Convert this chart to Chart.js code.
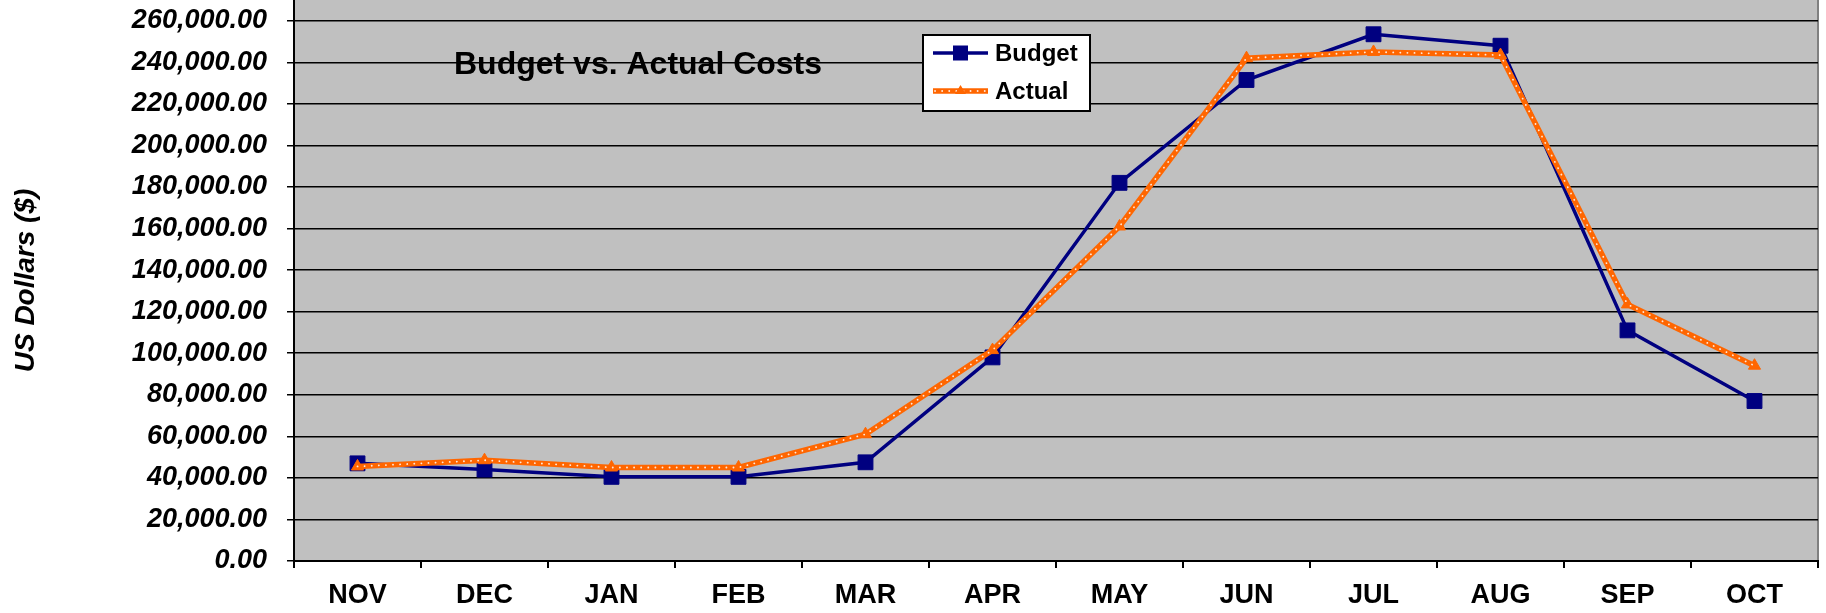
<!DOCTYPE html>
<html>
<head>
<meta charset="utf-8">
<title>Budget vs. Actual Costs</title>
<script src="https://cdn.jsdelivr.net/npm/chart.js@4.4.0/dist/chart.umd.min.js"></script>
<style>
  html, body { margin: 0; padding: 0; background: #ffffff; }
  #wrap { width: 1826px; height: 613px; }
</style>
</head>
<body>
<div id="wrap"><canvas id="costChart" width="1826" height="613"></canvas></div>
<script>
const months = ['NOV', 'DEC', 'JAN', 'FEB', 'MAR', 'APR', 'MAY', 'JUN', 'JUL', 'AUG', 'SEP', 'OCT'];
const budget = [47000, 44000, 40500, 40500, 47500, 98000, 182000, 231500, 253500, 248000, 111000, 77000];
const actual = [45500, 48500, 45000, 45000, 61000, 101500, 161000, 242000, 245000, 243500, 123500, 94000];
const yTicks = [0, 20000, 40000, 60000, 80000, 100000, 120000, 140000, 160000, 180000, 200000, 220000, 240000, 260000];
const Y_MAX = 270000;

const NAVY = '#000080';
const ORANGE = '#ff6600';
const FONT = '"Liberation Sans", Arial, sans-serif';

// gray plot area + right border
const plotBackground = {
    id: 'plotBackground',
    beforeDraw(chart) {
        const { ctx, chartArea: a } = chart;
        ctx.save();
        ctx.fillStyle = '#c0c0c0';
        ctx.fillRect(a.left, a.top, a.right - a.left, a.bottom - a.top);
        ctx.strokeStyle = '#808080';
        ctx.lineWidth = 2;
        ctx.beginPath();
        ctx.moveTo(a.right, a.top);
        ctx.lineTo(a.right, a.bottom);
        ctx.stroke();
        ctx.restore();
    }
};

// title inside the plot area
const innerTitle = {
    id: 'innerTitle',
    afterDraw(chart) {
        const { ctx, chartArea: a } = chart;
        ctx.save();
        ctx.font = 'bold 32px ' + FONT;
        ctx.fillStyle = '#000';
        ctx.textBaseline = 'alphabetic';
        ctx.textAlign = 'left';
        ctx.fillText('Budget vs. Actual Costs', a.left + 160, a.top + 74);
        ctx.restore();
    }
};

// boxed legend with line + marker samples
const boxLegend = {
    id: 'boxLegend',
    afterDraw(chart) {
        const { ctx, chartArea: a } = chart;
        const x = a.left + 629, y = a.top + 35, w = 167, h = 76;
        ctx.save();
        ctx.fillStyle = '#fff';
        ctx.fillRect(x, y, w, h);
        ctx.strokeStyle = '#000';
        ctx.lineWidth = 2;
        ctx.strokeRect(x, y, w, h);

        // Budget
        let ly = y + 18;
        ctx.strokeStyle = NAVY;
        ctx.lineWidth = 3.5;
        ctx.beginPath();
        ctx.moveTo(x + 10, ly);
        ctx.lineTo(x + 65, ly);
        ctx.stroke();
        ctx.fillStyle = NAVY;
        ctx.fillRect(x + 30, ly - 7.5, 15, 15);

        // Actual
        ly = y + 56;
        ctx.strokeStyle = ORANGE;
        ctx.lineWidth = 5.5;
        ctx.beginPath();
        ctx.moveTo(x + 10, ly);
        ctx.lineTo(x + 65, ly);
        ctx.stroke();
        ctx.strokeStyle = 'rgba(255,255,255,0.85)';
        ctx.lineWidth = 1.8;
        ctx.lineCap = 'round';
        ctx.setLineDash([0.1, 7]);
        ctx.beginPath();
        ctx.moveTo(x + 12, ly);
        ctx.lineTo(x + 65, ly);
        ctx.stroke();
        ctx.setLineDash([]);
        ctx.fillStyle = ORANGE;
        ctx.beginPath();
        ctx.moveTo(x + 37.5, ly - 6);
        ctx.lineTo(x + 43, ly + 3);
        ctx.lineTo(x + 32, ly + 3);
        ctx.closePath();
        ctx.fill();

        ctx.fillStyle = '#000';
        ctx.font = 'bold 24px ' + FONT;
        ctx.textBaseline = 'middle';
        ctx.fillText('Budget', x + 72, y + 19);
        ctx.fillText('Actual', x + 72, y + 57);
        ctx.restore();
    }
};

const ctx = document.getElementById('costChart').getContext('2d');
new Chart(ctx, {
    type: 'line',
    data: {
        labels: months,
        datasets: [
            {
                label: 'Actual dots',
                data: actual,
                borderColor: 'rgba(255,255,255,0.85)',
                borderWidth: 1.8,
                borderDash: [0.1, 7],
                borderCapStyle: 'round',
                pointRadius: 0,
                tension: 0,
                order: 0
            },
            {
                label: 'Actual',
                data: actual,
                borderColor: ORANGE,
                borderWidth: 5.5,
                pointStyle: 'triangle',
                pointRadius: 7,
                pointBackgroundColor: ORANGE,
                pointBorderColor: ORANGE,
                pointBorderWidth: 1,
                tension: 0,
                order: 1
            },
            {
                label: 'Budget',
                data: budget,
                borderColor: NAVY,
                borderWidth: 3.5,
                pointStyle: 'rect',
                pointRadius: 10.5,
                pointBackgroundColor: NAVY,
                pointBorderColor: NAVY,
                pointBorderWidth: 1,
                tension: 0,
                order: 2
            }
        ]
    },
    options: {
        responsive: false,
        devicePixelRatio: 1,
        animation: false,
        layout: { autoPadding: false, padding: { top: 0, left: 0, right: 8, bottom: 0 } },
        plugins: {
            legend: { display: false },
            tooltip: { enabled: false },
            title: { display: false }
        },
        scales: {
            x: {
                offset: true,
                grid: {
                    offset: true,
                    drawOnChartArea: false,
                    tickLength: 7,
                    color: '#000',
                    lineWidth: 2
                },
                border: { color: '#000', width: 2 },
                ticks: {
                    color: '#000',
                    padding: 11,
                    maxRotation: 0,
                    font: { family: FONT, size: 27, weight: 'bold' }
                },
                afterFit(scale) {
                    scale.height = 52;
                    scale.paddingLeft = 0;
                    scale.paddingRight = 0;
                }
            },
            y: {
                min: 0,
                max: Y_MAX,
                grid: {
                    color: '#000',
                    lineWidth: 1.5,
                    tickLength: 7,
                    tickColor: '#000'
                },
                border: { color: '#000', width: 2 },
                ticks: {
                    autoSkip: false,
                    color: '#000',
                    padding: 20,
                    font: { family: FONT, size: 27, weight: 'bold', style: 'italic' },
                    callback: (value) => value.toLocaleString('en-US', { minimumFractionDigits: 2, maximumFractionDigits: 2 })
                },
                title: {
                    display: true,
                    text: 'US Dollars ($)',
                    color: '#000',
                    padding: { top: 9, bottom: 0 },
                    font: { family: FONT, size: 28, weight: 'bold', style: 'italic' }
                },
                // axis runs up to 270,000 but is only labelled every 20,000
                afterBuildTicks(scale) {
                    scale.ticks = yTicks.map(v => ({ value: v }));
                },
                afterFit(scale) {
                    scale.width = 294;
                    scale.paddingTop = 0;
                    scale.paddingBottom = 0;
                }
            }
        }
    },
    plugins: [plotBackground, innerTitle, boxLegend]
});
</script>
</body>
</html>
